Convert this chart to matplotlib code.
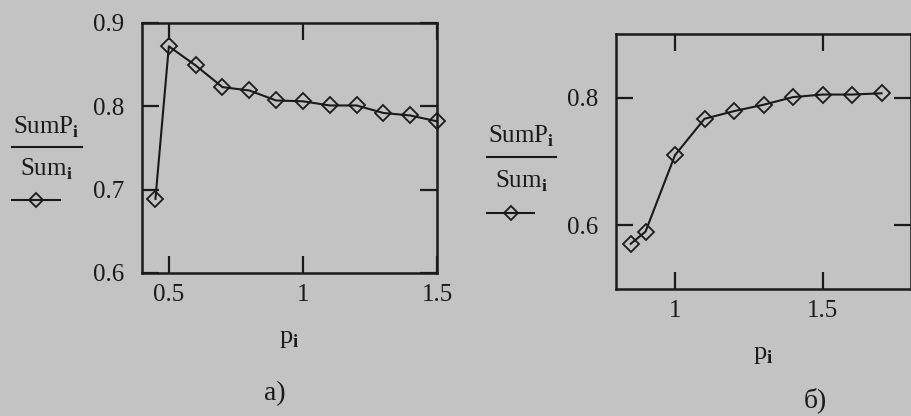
import matplotlib.pyplot as plt
from matplotlib.lines import Line2D

plt.rcParams['font.family'] = ['Liberation Serif', 'DejaVu Serif']
plt.rcParams['mathtext.fontset'] = 'custom'
plt.rcParams['mathtext.rm'] = 'Liberation Serif'
plt.rcParams['mathtext.bf'] = 'Liberation Serif:bold'

# данные графика а)
p_a = [0.45, 0.5, 0.6, 0.7, 0.8, 0.9, 1.0, 1.1, 1.2, 1.3, 1.4, 1.5]
ratio_a = [0.689, 0.872, 0.849, 0.823, 0.819, 0.807, 0.806, 0.801, 0.801, 0.792, 0.789, 0.782]
xticks_a = [0.5, 1, 1.5]
xtick_labels_a = ['0.5', '1', '1.5']
yticks_a = [0.6, 0.7, 0.8, 0.9]

# данные графика б)
p_b = [0.85, 0.9, 1.0, 1.1, 1.2, 1.3, 1.4, 1.5, 1.6, 1.7]
ratio_b = [0.571, 0.59, 0.71, 0.767, 0.779, 0.789, 0.801, 0.805, 0.805, 0.807]
xticks_b = [1, 1.5]
xtick_labels_b = ['1', '1.5']
yticks_b = [0.6, 0.8]

bg = '#c3c3c3'
ink = '#1a1a1a'

fig = plt.figure(figsize=(9.11, 4.16), dpi=100, facecolor=bg)
ax_a = fig.add_axes([0.1559, 0.3438, 0.3238, 0.601])
ax_b = fig.add_axes([0.6762, 0.3053, 0.3238, 0.613])


def style(ax, x, y, xlim, ylim, xt, xtl, yt):
    ax.set_facecolor(bg)
    ax.plot(x, y, color=ink, lw=1.5, marker='D', ms=8, mfc='none',
            mec=ink, mew=1.3, clip_on=False)
    ax.set_xlim(*xlim)
    ax.set_ylim(*ylim)
    ax.set_xticks(xt)
    ax.set_xticklabels(xtl)
    ax.set_yticks(yt)
    ax.set_yticklabels([f'{v:.1f}' for v in yt])
    ax.tick_params(direction='in', length=12, width=1.6, colors=ink,
                   labelsize=18, top=True, right=True)
    ax.tick_params(axis='x', pad=8)
    ax.tick_params(axis='y', pad=13)
    for s in ax.spines.values():
        s.set_linewidth(1.8)
        s.set_color(ink)


style(ax_a, p_a, ratio_a, (0.4, 1.5), (0.6, 0.9), xticks_a, xtick_labels_a, yticks_a)
style(ax_b, p_b, ratio_b, (0.8, 1.8), (0.5, 0.9), xticks_b, xtick_labels_b, yticks_b)

ax_a.set_xlabel(r'p$_\mathbf{i}$', fontsize=19, color=ink, labelpad=16)
ax_b.set_xlabel(r'p$_\mathbf{i}$', fontsize=19, color=ink, labelpad=16)


def ylab(xc, ytop, ybar, ybot, yleg, x0, x1):
    fig.text(xc / 911, 1 - ytop / 416, r'SumP$_\mathbf{i}$', ha='center', va='center',
             fontsize=18, color=ink)
    fig.add_artist(Line2D([x0 / 911, x1 / 911], [1 - ybar / 416] * 2,
                          transform=fig.transFigure, color=ink, lw=1.5))
    fig.text(xc / 911, 1 - ybot / 416, r'Sum$_\mathbf{i}$', ha='center', va='center',
             fontsize=18, color=ink)
    fig.add_artist(Line2D([x0 / 911, (x1 - 22) / 911], [1 - yleg / 416] * 2,
                          transform=fig.transFigure, color=ink, lw=1.5))
    fig.add_artist(Line2D([(x0 + x1 - 22) / 2 / 911], [1 - yleg / 416],
                          transform=fig.transFigure, color=ink, marker='D', ms=7,
                          mfc='none', mew=1.3))


ylab(46, 127, 147, 169, 200, 12, 82)
ylab(521, 136, 157, 181, 213, 487, 556)

fig.text(275 / 911, 1 - 394 / 416, 'а)', ha='center', va='center', fontsize=20, color=ink)
fig.text(815 / 911, 1 - 400 / 416, 'б)', ha='center', va='center', fontsize=20, color=ink)

fig.savefig('out.png', dpi=100, facecolor=bg)
